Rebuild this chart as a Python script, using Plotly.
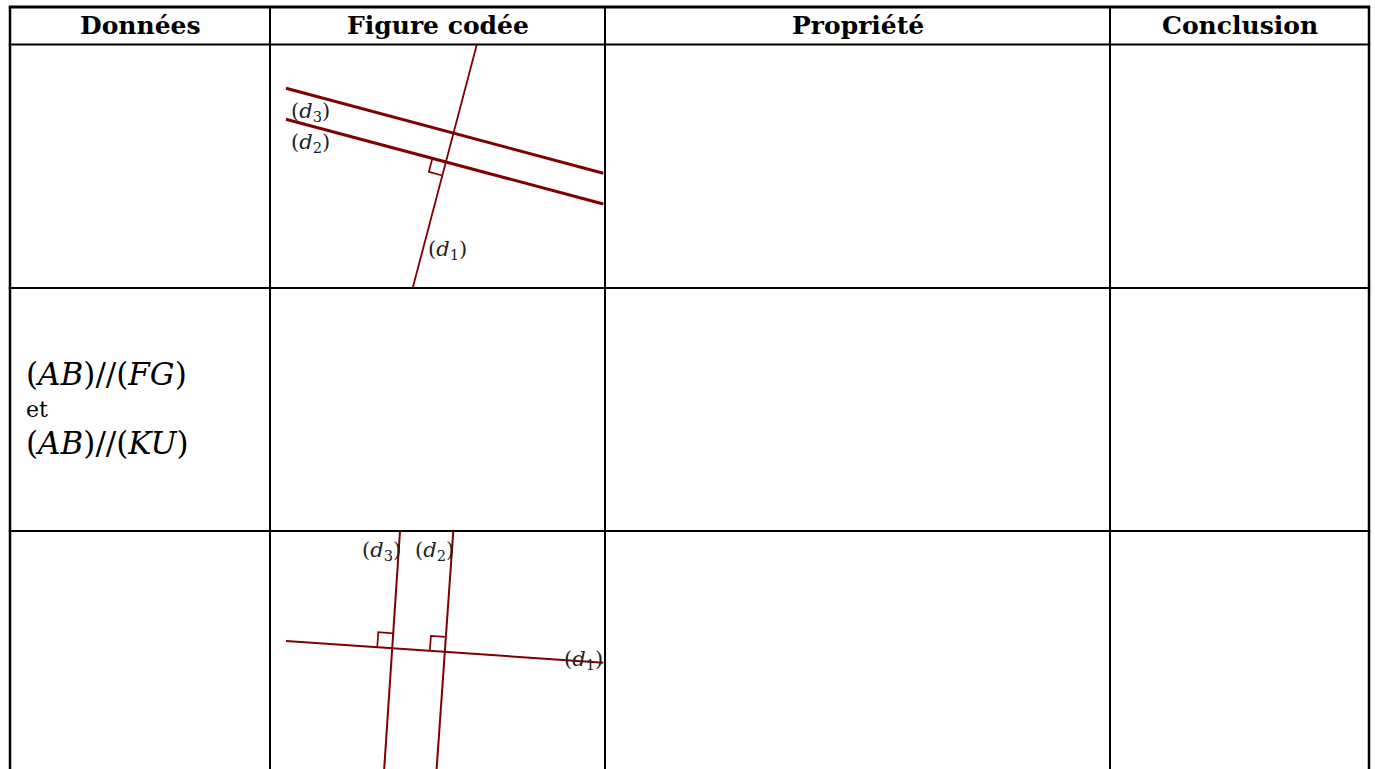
import plotly.graph_objects as go

# grille du tableau (pixels)
col_x = [10, 270, 605, 1110, 1369]
row_y = [7, 44.5, 288, 531, 780]
headers = ["Données", "Figure codée", "Propriété", "Conclusion"]
header_y = 25

donnees_lignes = ["(<i>AB</i>)//(<i>FG</i>)", "et", "(<i>AB</i>)//(<i>KU</i>)"]
donnees_y = [374, 409, 443]

# figure 1 : (d1) coupe (d2) et (d3) parallèles
fig1_x0 = [476.7, 286, 286]
fig1_y0 = [45, 119.3, 88.3]
fig1_x1 = [412.7, 603.3, 603.3]
fig1_y1 = [288, 204, 173.3]
fig1_largeur = [1.8, 3, 3]
fig1_labels = ["(<i>d</i><sub>3</sub>)", "(<i>d</i><sub>2</sub>)", "(<i>d</i><sub>1</sub>)"]
fig1_lab_x = [310, 310, 447]
fig1_lab_y = [112, 143, 250]

# figure 3 : (d2) et (d3) perpendiculaires à (d1)
fig3_x0 = [286, 453.3, 400]
fig3_y0 = [641, 531, 531]
fig3_x1 = [603.3, 436.2, 383.8]
fig3_y1 = [662.7, 775, 775]
fig3_labels = ["(<i>d</i><sub>3</sub>)", "(<i>d</i><sub>2</sub>)", "(<i>d</i><sub>1</sub>)"]
fig3_lab_x = [381, 434, 583]
fig3_lab_y = [551, 551, 660]

rouge = "#800000"
police = "DejaVu Serif"


def intersection(p, q, r, s):
    # intersection des droites (pq) et (rs)
    x1, y1 = p
    x2, y2 = q
    x3, y3 = r
    x4, y4 = s
    d = (x1 - x2) * (y3 - y4) - (y1 - y2) * (x3 - x4)
    t = ((x1 - x3) * (y3 - y4) - (y1 - y3) * (x3 - x4)) / d
    return x1 + t * (x2 - x1), y1 + t * (y2 - y1)


def unit(p, q, sens):
    dx, dy = q[0] - p[0], q[1] - p[1]
    n = (dx * dx + dy * dy) ** 0.5
    return sens * dx / n, sens * dy / n


def angle_droit(a, b, sa, sb, c=15):
    # petit carré codant l'angle droit entre a et b
    i = intersection(a[0], a[1], b[0], b[1])
    ua = unit(a[0], a[1], sa)
    ub = unit(b[0], b[1], sb)
    p1 = (i[0] + c * ua[0], i[1] + c * ua[1])
    p3 = (i[0] + c * ub[0], i[1] + c * ub[1])
    p2 = (p1[0] + c * ub[0], p1[1] + c * ub[1])
    return [p1[0], p2[0], p3[0]], [p1[1], p2[1], p3[1]]


fig = go.Figure()

# lignes du tableau
for i, x in enumerate(col_x):
    fig.add_trace(go.Scatter(x=[x, x], y=[row_y[0], row_y[-1]], mode="lines",
                             line=dict(color="black", width=2.5 if i in (0, len(col_x) - 1) else 2),
                             hoverinfo="skip"))
for j, y in enumerate(row_y[:-1]):
    fig.add_trace(go.Scatter(x=[col_x[0] - 1.2, col_x[-1] + 1.2], y=[y, y], mode="lines",
                             line=dict(color="black", width=3 if j == 0 else 2),
                             hoverinfo="skip"))

# figure 1
for k in range(3):
    fig.add_trace(go.Scatter(x=[fig1_x0[k], fig1_x1[k]], y=[fig1_y0[k], fig1_y1[k]], mode="lines",
                             line=dict(color=rouge, width=fig1_largeur[k]), hoverinfo="skip"))
d1 = ((fig1_x0[0], fig1_y0[0]), (fig1_x1[0], fig1_y1[0]))
d2 = ((fig1_x0[1], fig1_y0[1]), (fig1_x1[1], fig1_y1[1]))
ax, ay = angle_droit(d2, d1, -1, 1, 14)
fig.add_trace(go.Scatter(x=ax, y=ay, mode="lines", line=dict(color=rouge, width=1.7), hoverinfo="skip"))

# figure 3
for k in range(3):
    fig.add_trace(go.Scatter(x=[fig3_x0[k], fig3_x1[k]], y=[fig3_y0[k], fig3_y1[k]], mode="lines",
                             line=dict(color=rouge, width=2), hoverinfo="skip"))
e1 = ((fig3_x0[0], fig3_y0[0]), (fig3_x1[0], fig3_y1[0]))
for k in (1, 2):
    ek = ((fig3_x0[k], fig3_y0[k]), (fig3_x1[k], fig3_y1[k]))
    ax, ay = angle_droit(e1, ek, -1, -1, 15)
    fig.add_trace(go.Scatter(x=ax, y=ay, mode="lines", line=dict(color=rouge, width=1.7), hoverinfo="skip"))

annotations = []
for k, h in enumerate(headers):
    annotations.append(dict(x=(col_x[k] + col_x[k + 1]) / 2, y=header_y, text="<b>" + h + "</b>",
                            showarrow=False, font=dict(family=police, size=25, color="black")))
for t, y in zip(donnees_lignes, donnees_y):
    annotations.append(dict(x=24, y=y, text=t, xanchor="left", showarrow=False,
                            font=dict(family=police, size=31 if t != "et" else 22, color="black")))
for t, x, y in zip(fig1_labels, fig1_lab_x, fig1_lab_y):
    annotations.append(dict(x=x, y=y, text=t, showarrow=False,
                            font=dict(family=police, size=21, color="#222222")))
for t, x, y in zip(fig3_labels, fig3_lab_x, fig3_lab_y):
    annotations.append(dict(x=x, y=y, text=t, showarrow=False,
                            font=dict(family=police, size=21, color="#222222")))

fig.update_layout(
    width=1375, height=769,
    margin=dict(l=0, r=0, t=0, b=0),
    paper_bgcolor="white", plot_bgcolor="white",
    showlegend=False,
    xaxis=dict(range=[0, 1375], visible=False, fixedrange=True),
    yaxis=dict(range=[769, 0], visible=False, fixedrange=True),
    annotations=annotations,
)

# la page par défaut ajoute une marge de 8 px autour du graphique
fig.write_html("out.html", config={"displayModeBar": False},
               post_script="document.body.style.margin='0';document.body.style.overflow='hidden';")
